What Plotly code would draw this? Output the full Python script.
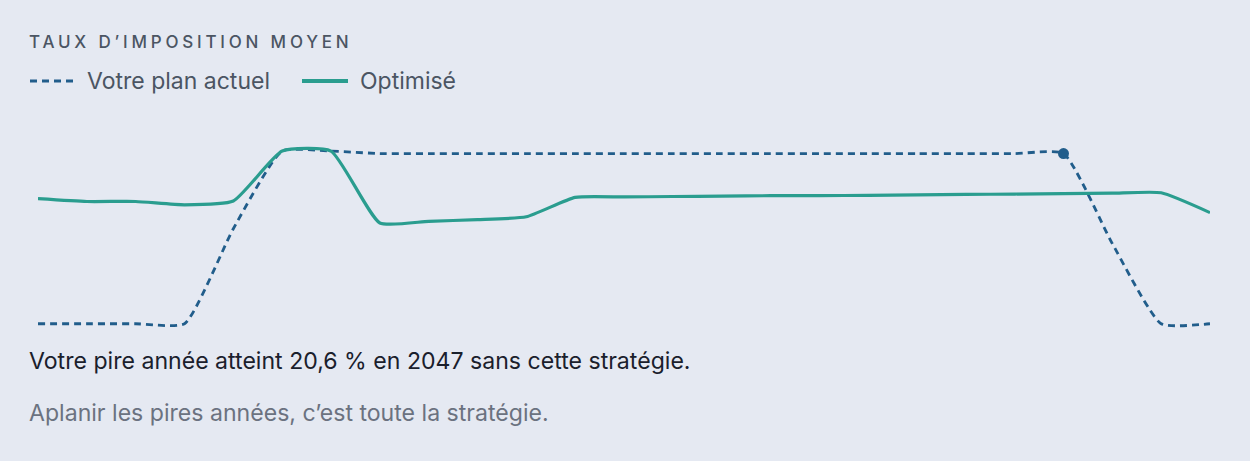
import plotly.graph_objects as go

# years on the x axis
years = list(range(2026, 2051))

# average tax rate (%), current plan vs optimised
plan_actuel = [0, 0, 0, 0, 11.5, 20.9, 20.9,
               20.6, 20.6, 20.6, 20.6, 20.6, 20.6, 20.6, 20.6,
               20.6, 20.6, 20.6, 20.6, 20.6, 20.6, 20.6,
               9.7, 0, 0]
optimise = [15.15, 14.8, 14.8, 14.4, 14.85, 20.9, 20.9,
            12.2, 12.4, 12.6, 12.95, 15.3, 15.35, 15.4, 15.45,
            15.5, 15.5, 15.55, 15.6, 15.65, 15.7, 15.75,
            15.8, 15.85, 13.45]

noms = ["Votre plan actuel", "Optimisé"]
pire_annee = 2047
pire_taux = plan_actuel[years.index(pire_annee)]

W, H = 1250, 461
ML, MR, MT, MB = 38, 40, 142, 129
BG = "#e5e9f2"
BLEU = "#215d8b"
VERT = "#2a9d8f"
FONT = "Inter"
SMOOTH = 0.5


def px_x(px):
    return (px - ML) / (W - ML - MR)


def px_y(py):
    return (H - MB - py) / (H - MT - MB)


fig = go.Figure()
fig.add_trace(go.Scatter(
    x=years, y=plan_actuel, name=noms[0], mode="lines",
    line=dict(color=BLEU, width=2.8, dash="7px,5px", shape="spline", smoothing=SMOOTH),
    hoverinfo="skip"))
fig.add_trace(go.Scatter(
    x=years, y=optimise, name=noms[1], mode="lines",
    line=dict(color=VERT, width=3.2, shape="spline", smoothing=SMOOTH),
    hoverinfo="skip"))
fig.add_trace(go.Scatter(
    x=[pire_annee], y=[pire_taux], mode="markers",
    marker=dict(color=BLEU, size=11), hoverinfo="skip"))

fig.update_layout(
    width=W, height=H,
    margin=dict(l=ML, r=MR, t=MT, b=MB),
    paper_bgcolor=BG, plot_bgcolor=BG,
    font=dict(family=FONT),
    xaxis=dict(range=[2026, 2050], visible=False),
    yaxis=dict(range=[-1, 22], visible=False),
    showlegend=False,
)

# legend drawn by hand (longer line samples than plotly's own legend)
fig.add_shape(type="line", xref="paper", yref="paper",
              x0=px_x(30), x1=px_x(77), y0=px_y(81), y1=px_y(81),
              line=dict(color=BLEU, width=3, dash="7px,5px"))
fig.add_shape(type="line", xref="paper", yref="paper",
              x0=px_x(302), x1=px_x(348), y0=px_y(81), y1=px_y(81),
              line=dict(color=VERT, width=4))
for nom, x in zip(noms, [85, 358]):
    fig.add_annotation(text=nom, xref="paper", yref="paper", x=px_x(x), y=px_y(81),
                       xanchor="left", yanchor="middle", showarrow=False,
                       font=dict(size=23, color="#4b5563"))

fig.add_annotation(
    text='<span style="letter-spacing:3.8px">TAUX D’IMPOSITION MOYEN</span>',
    xref="paper", yref="paper", x=px_x(27), y=px_y(42),
    xanchor="left", yanchor="middle", showarrow=False,
    font=dict(size=17, color="#4b5563", weight=500))
fig.add_annotation(
    text=f"Votre pire année atteint {str(pire_taux).replace('.', ',')} % en {pire_annee} sans cette stratégie.",
    xref="paper", yref="paper", x=px_x(27), y=px_y(361),
    xanchor="left", yanchor="middle", showarrow=False,
    font=dict(size=23.1, color="#1a202c"))
fig.add_annotation(
    text="Aplanir les pires années, c’est toute la stratégie.",
    xref="paper", yref="paper", x=px_x(27), y=px_y(413),
    xanchor="left", yanchor="middle", showarrow=False,
    font=dict(size=23.1, color="#6b7280"))

fig.write_html("out.html", config={"displayModeBar": False},
               post_script="document.body.style.margin='0';")
